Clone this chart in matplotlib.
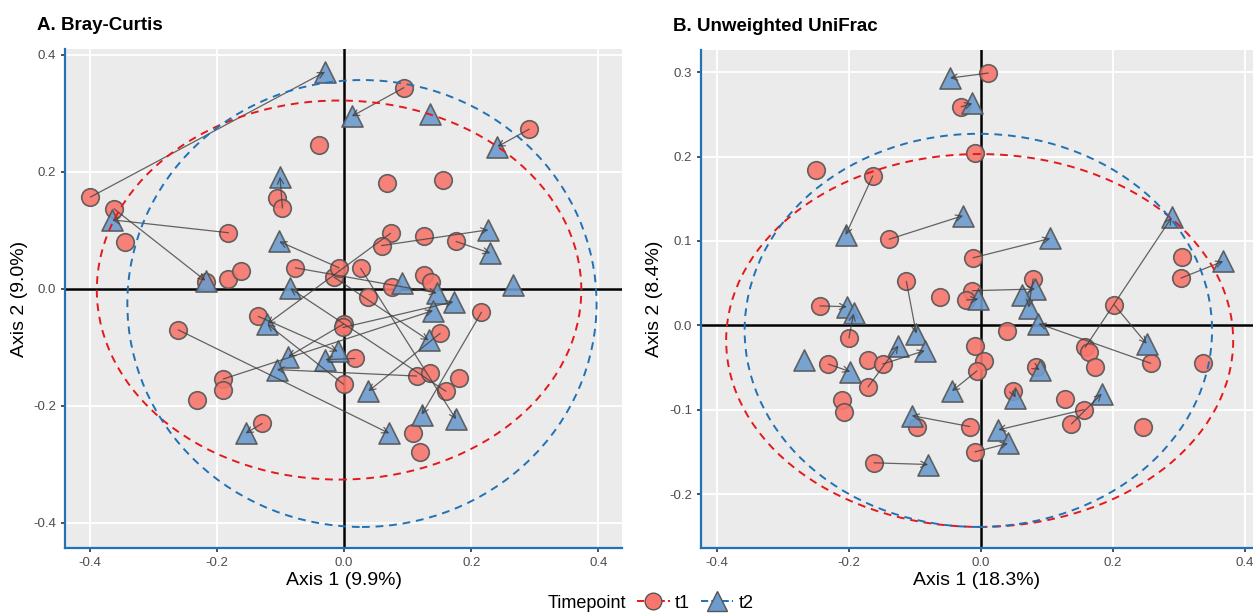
import numpy as np
import matplotlib.pyplot as plt
from matplotlib.patches import Ellipse
from matplotlib.lines import Line2D

plt.rcParams['font.family'] = ['Liberation Sans', 'DejaVu Sans']

# ---- A. Bray-Curtis ordination ----
bc_t1_x = [-0.399, -0.362, -0.344, -0.182, -0.218, -0.182, -0.162, -0.039, -0.106, -0.097,
           -0.077, -0.016, -0.008, 0.094, 0.291, 0.067, 0.155, 0.073, 0.059, 0.125,
           0.176, 0.026, 0.125, 0.136, 0.075, 0.037, 0.216, -0.001, -0.002, 0.151,
           0.017, -0.001, 0.114, 0.135, 0.180, 0.160, 0.108, 0.119, -0.135, -0.261,
           -0.190, -0.190, -0.232, -0.129]
bc_t1_y = [0.157, 0.137, 0.080, 0.096, 0.012, 0.017, 0.031, 0.246, 0.155, 0.138,
           0.036, 0.020, 0.036, 0.344, 0.273, 0.181, 0.186, 0.095, 0.074, 0.090,
           0.081, 0.035, 0.023, 0.012, 0.003, -0.014, -0.040, -0.060, -0.066, -0.076,
           -0.119, -0.163, -0.149, -0.144, -0.153, -0.175, -0.246, -0.279, -0.047, -0.070,
           -0.154, -0.173, -0.190, -0.230]
bc_t2_x = [-0.030, 0.012, 0.241, 0.135, -0.365, -0.218, -0.101, -0.102, 0.227, 0.230,
           0.265, -0.085, 0.091, 0.146, 0.172, 0.140, 0.133, -0.121, -0.088, -0.106,
           -0.030, -0.010, 0.038, 0.122, 0.176, 0.071, -0.155]
bc_t2_y = [0.371, 0.295, 0.243, 0.299, 0.118, 0.014, 0.192, 0.081, 0.101, 0.061,
           0.007, 0.001, 0.010, -0.007, -0.022, -0.037, -0.088, -0.060, -0.116, -0.138,
           -0.121, -0.107, -0.175, -0.215, -0.223, -0.247, -0.247]
# (t1 index, t2 index) for each subject sampled twice
bc_pairs = [(0, 0), (13, 1), (14, 2), (3, 4), (1, 5), (9, 6), (12, 7), (18, 8), (20, 9),
            (35, 11), (10, 13), (28, 14), (40, 15), (11, 16), (17, 17), (31, 17), (27, 18),
            (32, 19), (30, 20), (38, 21), (29, 22), (26, 23), (21, 24), (39, 25), (43, 26)]
# stat_ellipse: centre x, centre y, half width, half height
bc_ell_t1 = [-0.008, -0.002, 0.381, 0.324]
bc_ell_t2 = [0.028, -0.025, 0.369, 0.382]

# ---- B. Unweighted UniFrac ordination ----
uf_t1_x = [0.011, -0.030, -0.009, -0.250, -0.164, -0.139, -0.012, -0.113, -0.062, -0.013,
           -0.022, -0.244, -0.200, 0.079, 0.304, 0.303, 0.202, 0.039, -0.009, 0.005,
           -0.006, 0.158, 0.163, 0.173, 0.257, 0.337, 0.083, 0.048, 0.127, 0.156,
           0.137, 0.246, -0.017, -0.009, -0.231, -0.171, -0.149, -0.171, -0.211, -0.208,
           -0.097, -0.162]
uf_t1_y = [0.299, 0.259, 0.204, 0.184, 0.177, 0.102, 0.080, 0.052, 0.034, 0.041,
           0.030, 0.023, -0.015, 0.055, 0.081, 0.056, 0.024, -0.007, -0.025, -0.042,
           -0.054, -0.026, -0.032, -0.049, -0.045, -0.045, -0.050, -0.078, -0.087, -0.100,
           -0.117, -0.121, -0.120, -0.150, -0.046, -0.041, -0.046, -0.073, -0.088, -0.103,
           -0.121, -0.163]
uf_t2_x = [-0.047, -0.013, -0.205, -0.027, 0.105, -0.098, -0.004, -0.203, -0.193, 0.289,
           0.367, 0.082, 0.062, 0.072, 0.087, 0.251, 0.089, 0.052, 0.183, 0.026,
           0.041, -0.268, -0.198, -0.085, -0.125, -0.044, -0.105, -0.080]
uf_t2_y = [0.293, 0.263, 0.107, 0.130, 0.103, -0.010, 0.031, 0.022, 0.014, 0.128,
           0.076, 0.043, 0.036, 0.021, 0.002, -0.022, -0.053, -0.086, -0.081, -0.124,
           -0.140, -0.041, -0.055, -0.030, -0.024, -0.078, -0.107, -0.165]
uf_pairs = [(0, 0), (1, 1), (4, 2), (5, 3), (6, 4), (7, 5), (10, 6), (11, 7), (12, 8),
            (21, 9), (15, 10), (9, 11), (13, 13), (24, 14), (16, 15), (26, 16), (27, 17),
            (30, 18), (29, 19), (33, 20), (34, 22), (36, 23), (37, 24), (20, 25), (32, 26),
            (41, 27)]
uf_ell_t1 = [-0.002, -0.018, 0.384, 0.221]
uf_ell_t2 = [-0.004, -0.006, 0.354, 0.233]

ticks = [-0.4, -0.2, 0.0, 0.2, 0.4]

red_fill = '#F8766D'
blue_fill = '#6C9BCD'
ell_red = '#E3191C'
ell_blue = '#2171B5'


def draw_panel(ax, t1x, t1y, t2x, t2y, pairs, ell1, ell2, xlim, ylim, yticks, title, xlab, ylab):
    ax.set_facecolor('#EBEBEB')
    ax.set_xlim(xlim)
    ax.set_ylim(ylim)
    ax.set_xticks(ticks)
    ax.set_yticks(yticks)
    ax.set_xticklabels([f'{t:.1f}' for t in ticks])
    ax.set_yticklabels([f'{t:.1f}' for t in yticks])
    ax.grid(True, color='white', lw=1.3)
    ax.set_axisbelow(True)
    for s in ['top', 'right']:
        ax.spines[s].set_visible(False)
    for s in ['left', 'bottom']:
        ax.spines[s].set_color(ell_blue)
        ax.spines[s].set_linewidth(1.6)
    ax.tick_params(colors='#333333', labelcolor='#4D4D4D', labelsize=9.5, length=3, width=1.2)
    ax.axhline(0, color='black', lw=1.8, zorder=1)
    ax.axvline(0, color='black', lw=1.8, zorder=1)

    ax.scatter(t1x, t1y, s=160, marker='o', color=red_fill, edgecolor='#555555',
               linewidth=1.2, alpha=0.9, zorder=3)
    ax.scatter(t2x, t2y, s=230, marker='^', color=blue_fill, edgecolor='#555555',
               linewidth=1.2, alpha=0.9, zorder=3)
    for i, j in pairs:
        ax.annotate('', xy=(t2x[j], t2y[j]), xytext=(t1x[i], t1y[i]),
                    arrowprops=dict(arrowstyle='->', color='#404040', lw=0.9, alpha=0.8,
                                    shrinkA=0, shrinkB=0, mutation_scale=11),
                    zorder=4)

    for e, c in [(ell1, ell_red), (ell2, ell_blue)]:
        ax.add_patch(Ellipse((e[0], e[1]), 2 * e[2], 2 * e[3], fill=False, ec=c,
                             lw=1.4, ls=(0, (4, 3)), zorder=5))

    ax.set_xlabel(xlab, fontsize=14, labelpad=2)
    ax.set_ylabel(ylab, fontsize=14, labelpad=4)
    ax.set_title(title, fontsize=13.5, fontweight='bold', loc='left', x=-0.05, pad=14)


fig = plt.figure(figsize=(12.53, 6.13), dpi=100)
ax1 = fig.add_axes([0.0519, 0.106, 0.4445, 0.814])
ax2 = fig.add_axes([0.5595, 0.106, 0.4405, 0.812])

draw_panel(ax1, bc_t1_x, bc_t1_y, bc_t2_x, bc_t2_y, bc_pairs, bc_ell_t1, bc_ell_t2,
           (-0.439, 0.437), (-0.443, 0.410), ticks,
           'A. Bray-Curtis', 'Axis 1 (9.9%)', 'Axis 2 (9.0%)')
draw_panel(ax2, uf_t1_x, uf_t1_y, uf_t2_x, uf_t2_y, uf_pairs, uf_ell_t1, uf_ell_t2,
           (-0.424, 0.412), (-0.264, 0.326), [-0.2, -0.1, 0.0, 0.1, 0.2, 0.3],
           'B. Unweighted UniFrac', 'Axis 1 (18.3%)', 'Axis 2 (8.4%)')

handles = [Line2D([], [], color=ell_red, ls='--', lw=1.4, marker='o', markersize=12,
                  markerfacecolor=red_fill, markeredgecolor='#555555'),
           Line2D([], [], color=ell_blue, ls='--', lw=1.4, marker='^', markersize=14,
                  markerfacecolor=blue_fill, markeredgecolor='#555555')]
fig.legend(handles, ['t1', 't2'], loc='center', bbox_to_anchor=(0.555, 0.016), ncol=2,
           frameon=False, fontsize=13, handlelength=1.8, columnspacing=0.6, handletextpad=0.3)
fig.text(0.437, 0.016, 'Timepoint', fontsize=13, ha='left', va='center')

fig.savefig('out.png', dpi=100)
